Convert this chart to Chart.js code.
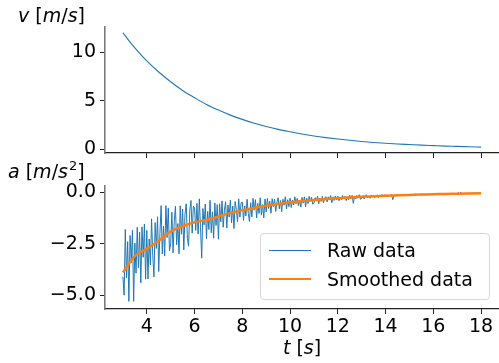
<!DOCTYPE html>
<html>
<head>
<meta charset="utf-8">
<script src="https://cdn.jsdelivr.net/npm/chart.js@4"></script>
<style>
  body { margin:0; background:#fff; }
  #wrap { position:relative; width:499px; height:363px; overflow:hidden; font-family:'DejaVu Sans', sans-serif; }
  canvas { position:absolute; left:0; }
  .lbl { position:absolute; font-size:19px; line-height:19px; white-space:nowrap; color:#000; }
  .lbl sup { font-size:13px; position:relative; top:-6px; vertical-align:top; margin-left:1px; }
  #legend { position:absolute; left:260px; top:233px; width:228px; height:65px; border:1px solid #d6d6d6;
            border-radius:4px; background:rgba(255,255,255,0.8); }
  .item { position:absolute; left:8px; font-size:19px; line-height:19px; white-space:nowrap; }
  .swatch { position:absolute; left:0; width:42px; }
  .item span { position:absolute; left:58px; top:0; }
</style>
</head>
<body>
<div id="wrap">
  <canvas id="top" width="499" height="170" style="top:0"></canvas>
  <canvas id="bottom" width="499" height="193" style="top:170px"></canvas>
  <div class="lbl" style="left:18px;top:6px"><i>v</i> [<i>m</i>/<i>s</i>]</div>
  <div class="lbl" style="left:8px;top:162px"><i>a</i> [<i>m</i>/<i>s</i><sup>2</sup>]</div>
  <div class="lbl" style="left:302px;top:338px;transform:translateX(-50%)"><i>t</i> [<i>s</i>]</div>
  <div id="legend">
    <div class="item" style="top:7px"><div class="swatch" style="top:9px;border-top:1px solid #1f77b4"></div><span>Raw data</span></div>
    <div class="item" style="top:36px"><div class="swatch" style="top:8px;border-top:2.5px solid #ff7f0e"></div><span>Smoothed data</span></div>
  </div>
</div>
<script>
// --- velocity (top panel) ---
const velT = [3,3.25,3.5,3.75,4,4.5,5,5.5,6,6.5,7,7.5,8,8.5,9,9.5,10,10.5,11,11.5,12,12.5,13,13.5,14,14.5,15,15.5,16,16.5,17,17.5,18];
const velV = [12.0,11.2,10.45,9.75,9.1,7.95,6.95,6.05,5.3,4.6,4.02,3.5,3.06,2.67,2.33,2.03,1.78,1.55,1.35,1.18,1.03,0.9,0.78,0.68,0.6,0.52,0.46,0.4,0.35,0.3,0.27,0.23,0.2];

// --- acceleration raw samples, one every 0.05 s from t = 3 ---
const RAW_T0 = 3, RAW_DT = 0.05;
const rawA = [
  -4.1,-5.0,-1.8,-4.15,-2.4,-5.3,-2.1,-3.42,-1.85,-5.3,-2.47,-3.93,-1.7,-3.67,-1.94,-4.4,-1.68,-3.16,-1.54,-4.22,
  -1.85,-4.21,-2.27,-3.53,-1.29,-3.05,-4.11,-1.47,-2.73,-1.19,-3.85,-2.0,-0.65,-3.0,-1.65,-3.1,-0.65,-2.2,-0.77,-2.84,
  -2.5,-0.97,-2.94,-1.41,-0.68,-2.55,-1.52,-2.99,-0.66,-2.04,-0.82,-2.8,-1.08,-0.56,-2.24,-2.62,-0.91,-0.4,-1.99,-0.68,
  -0.76,-1.85,-0.54,-2.03,-0.32,-1.71,-3.2,-0.79,-1.58,-0.57,-2.25,-0.93,-1.81,-0.39,-1.97,-0.95,-2.23,-0.52,-1.61,-0.6,
  -2.28,-0.56,-1.44,-0.42,-1.7,-0.88,-0.46,-1.74,-0.62,-1.2,-0.39,-1.48,-0.67,-1.76,-0.45,-0.84,-1.43,-0.32,-1.21,-0.5,
  -0.48,-1.37,-0.66,-1.15,-0.34,-1.03,-1.42,-0.51,-1.2,-0.29,-0.87,-0.36,-1.25,-0.54,-1.03,-0.27,-1.11,-0.6,-1.24,-0.33,
  -0.96,-0.3,-0.79,-0.43,-1.02,-0.31,-0.7,-0.34,-0.93,-0.48,-0.27,-0.81,-0.4,-0.94,-0.34,-0.63,-0.22,-0.81,-0.36,-0.7,
  -0.29,-0.74,-0.38,-0.62,-0.22,-0.56,-0.3,-0.65,-0.39,-0.72,-0.25,-0.53,-0.22,-0.71,-0.29,-0.55,-0.2,-0.44,-0.24,-0.58,
  -0.53,-0.26,-0.42,-0.19,-0.56,-0.28,-0.45,-0.2,-0.52,-0.29,-0.21,-0.47,-0.22,-0.38,-0.16,-0.51,-0.22,-0.4,-0.18,-0.37,
  -0.19,-0.41,-0.23,-0.36,-0.16,-0.32,-0.19,-0.41,-0.22,-0.36,-0.15,-0.31,-0.15,-0.54,-0.18,-0.33,-0.15,-0.27,-0.12,-0.34,
  -0.30,-0.16,-0.32,-0.17,-0.13,-0.27,-0.18,-0.29,-0.13,-0.24,-0.15,-0.27,-0.17,-0.13,-0.26,-0.14,-0.23,-0.11,-0.21,-0.12,
  -0.22,-0.12,-0.2,-0.13,-0.19,-0.11,-0.36,-0.14,-0.19,-0.11,-0.18,-0.12,-0.17,-0.1,-0.16,-0.11,-0.17,-0.1,-0.15,-0.11,
  -0.15,-0.1,-0.14,-0.11,-0.13,-0.09,-0.14,-0.1,-0.12,-0.09,-0.13,-0.1,-0.12,-0.08,-0.13,-0.09,-0.11,-0.08,-0.12,-0.09,
  -0.11,-0.08,-0.1,-0.07,-0.11,-0.08,-0.09,-0.06,-0.1,-0.07,-0.09,-0.06,-0.1,-0.07,-0.08,-0.05,-0.09,-0.07,-0.08,-0.06,
  -0.08,-0.01,-0.07,0.0,-0.08,-0.06,-0.07,-0.04,-0.07,-0.05,-0.06,-0.04,-0.07,-0.05,-0.06,-0.04,-0.06,-0.04,-0.05,-0.04,
  -0.05
];

// --- smoothed acceleration, read every 0.5 s ---
const smoothT = [3,3.5,4,4.5,5,5.5,6,6.5,7,7.5,8,8.5,9,9.5,10,10.5,11,11.5,12,12.5,13,13.5,14,14.5,15,15.5,16,16.5,17,17.5,18];
const smoothA = [-3.9,-3.1,-2.75,-2.35,-1.9,-1.65,-1.46,-1.35,-1.18,-1.0,-0.88,-0.76,-0.66,-0.57,-0.49,-0.43,-0.38,-0.33,-0.29,-0.25,-0.22,-0.2,-0.17,-0.15,-0.13,-0.11,-0.1,-0.08,-0.07,-0.06,-0.05];

// tick labels
const xTicks = [4,6,8,10,12,14,16,18];
const velTicks = [0,5,10];
const accTicks = [0,-2.5,-5];

Chart.defaults.font.family = "'DejaVu Sans', sans-serif";
Chart.defaults.font.size = 19;
Chart.defaults.color = '#000';

const minus = v => (v < 0 ? '\u2212' : '') + Math.abs(v);

function xScale(showLabels, height) {
  return {
    type: 'linear', min: 2.25, max: 18.75,
    afterBuildTicks: s => { s.ticks = xTicks.map(v => ({ value: v })); },
    afterFit: s => { s.height = height; },
    grid: { drawOnChartArea: false, drawTicks: true, tickLength: 5, color: '#222', lineWidth: 1 },
    border: { display: true, color: '#222', width: 1.2 },
    ticks: { padding: 2, color: showLabels ? '#000' : 'rgba(0,0,0,0)', maxRotation: 0 }
  };
}

function yScale(min, max, ticks, fmt) {
  return {
    min, max,
    afterBuildTicks: s => { s.ticks = ticks.map(v => ({ value: v })); },
    afterFit: s => { s.width = 105; },
    grid: { drawOnChartArea: false, drawTicks: true, tickLength: 5, color: '#222', lineWidth: 1 },
    border: { display: true, color: '#7a7a7a', width: 1.6 },
    ticks: { padding: 4, callback: fmt }
  };
}

const common = {
  responsive: false,
  animation: false,
  events: [],
  plugins: { legend: { display: false }, tooltip: { enabled: false } },
  elements: { point: { radius: 0 } }
};

new Chart(document.getElementById('top'), {
  type: 'line',
  data: {
    datasets: [{
      data: velT.map((t, i) => ({ x: t, y: velV[i] })),
      borderColor: '#1f77b4', borderWidth: 1.1, cubicInterpolationMode: 'monotone', fill: false
    }]
  },
  options: {
    ...common,
    layout: { padding: { top: 27, right: 0, left: 0, bottom: 0 } },
    scales: {
      x: xScale(false, 17),
      y: yScale(-0.41, 12.6, velTicks, v => v)
    }
  }
});

new Chart(document.getElementById('bottom'), {
  type: 'line',
  data: {
    datasets: [
      {
        label: 'Smoothed data',
        data: smoothT.map((t, i) => ({ x: t, y: smoothA[i] })),
        borderColor: '#ff7f0e', borderWidth: 2.5, cubicInterpolationMode: 'monotone', fill: false
      },
      {
        label: 'Raw data',
        data: rawA.map((a, i) => ({ x: RAW_T0 + i * RAW_DT, y: a })),
        borderColor: '#1f77b4', borderWidth: 1, tension: 0, fill: false
      }
    ]
  },
  options: {
    ...common,
    layout: { padding: { top: 13, right: 0, left: 0, bottom: 0 } },
    scales: {
      x: xScale(true, 54),
      y: yScale(-5.67, 0.333, accTicks, v => minus(v).replace(/^(\u2212?\d+)$/, '$1.0'))
    }
  }
});
</script>
</body>
</html>
